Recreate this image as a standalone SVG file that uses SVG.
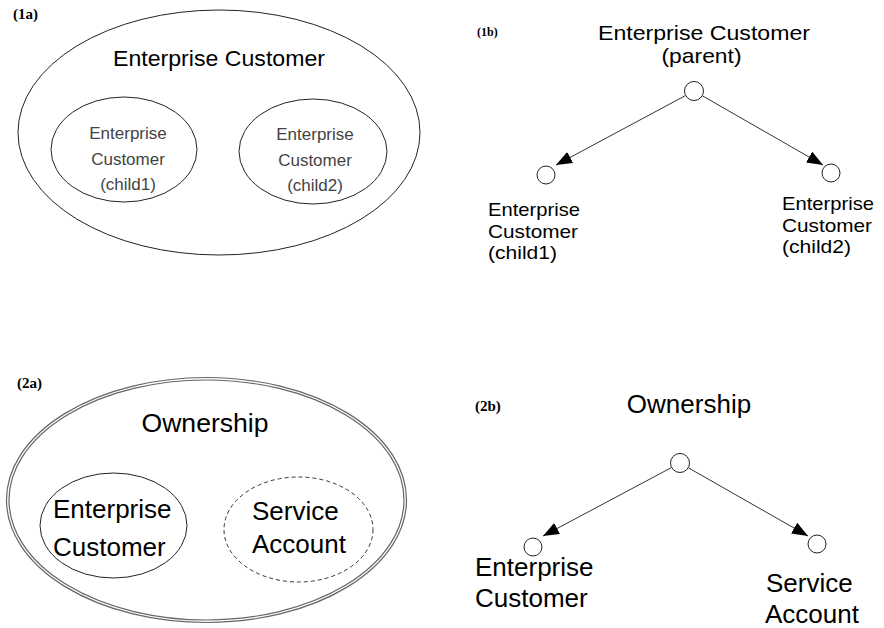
<svg xmlns="http://www.w3.org/2000/svg" width="884" height="628" viewBox="0 0 884 628">
<style>
.lbl{font-family:"Liberation Serif","Times New Roman",serif;font-weight:bold;fill:#000}
.t{font-family:"Liberation Sans",Arial,sans-serif;fill:#000}
.g{font-family:"Liberation Sans",Arial,sans-serif;fill:#444}
.ell{fill:none;stroke:#222;stroke-width:1}
.dbl{fill:none;stroke:#666;stroke-width:1.2}
.dash{fill:none;stroke:#333;stroke-width:1;stroke-dasharray:4 3}
.dot{fill:#fff;stroke:#222;stroke-width:1}
.edge{stroke:#333;stroke-width:1;fill:none;marker-end:url(#arr)}
</style>
<defs>
<marker id="arr" markerUnits="userSpaceOnUse" markerWidth="17" markerHeight="13" refX="16" refY="6.25" orient="auto">
<path d="M0,0 L16,6.25 L0,12.5 z" fill="#000"/>
</marker>
</defs>
<rect width="884" height="628" fill="#fff"/>

<text class="lbl" x="13" y="19" font-size="15">(1a)</text>
<text class="lbl" x="477" y="36" font-size="12">(1b)</text>
<text class="lbl" x="17" y="388" font-size="15">(2a)</text>
<text class="lbl" x="475" y="411" font-size="15">(2b)</text>

<g id="ec1a">
<ellipse class="ell" cx="219" cy="132.5" rx="201" ry="122.5"/>
<text class="t" x="219" y="65.5" font-size="22" text-anchor="middle" textLength="212" lengthAdjust="spacingAndGlyphs">Enterprise Customer</text>
</g>
<g id="ec1a-child1">
<ellipse class="ell" cx="124" cy="149.5" rx="73" ry="52.5"/>
<text class="g" x="128" y="139" font-size="17" text-anchor="middle">Enterprise</text>
<text class="g" x="128" y="165" font-size="17" text-anchor="middle">Customer</text>
<text class="g" x="128" y="190" font-size="17" text-anchor="middle">(child1)</text>
</g>
<g id="ec1a-child2">
<ellipse class="ell" cx="313" cy="151.5" rx="74" ry="52.5"/>
<text class="g" x="315" y="140" font-size="17" text-anchor="middle">Enterprise</text>
<text class="g" x="315" y="166" font-size="17" text-anchor="middle">Customer</text>
<text class="g" x="315" y="191" font-size="17" text-anchor="middle">(child2)</text>
</g>

<g id="connectors">
<line class="edge" x1="685.6" y1="95.5" x2="556" y2="165"/>
<line class="edge" x1="702.2" y1="95.7" x2="823" y2="165"/>
<line class="edge" x1="671.6" y1="467.5" x2="543" y2="536"/>
<line class="edge" x1="688.4" y1="467.8" x2="808" y2="536"/>
</g>

<g id="ec1b-parent">
<circle class="dot" cx="694" cy="91" r="9.5"/>
<text class="t" x="704" y="39.5" font-size="21" text-anchor="middle" textLength="212" lengthAdjust="spacingAndGlyphs">Enterprise Customer</text>
<text class="t" x="701.5" y="63" font-size="21" text-anchor="middle" textLength="80" lengthAdjust="spacingAndGlyphs">(parent)</text>
</g>
<g id="ec1b-child1">
<circle class="dot" cx="546" cy="175" r="9"/>
<text class="t" x="488" y="215.5" font-size="19" textLength="92" lengthAdjust="spacingAndGlyphs">Enterprise</text>
<text class="t" x="488" y="237.5" font-size="19" textLength="90" lengthAdjust="spacingAndGlyphs">Customer</text>
<text class="t" x="488" y="258.5" font-size="19" textLength="69" lengthAdjust="spacingAndGlyphs">(child1)</text>
</g>
<g id="ec1b-child2">
<circle class="dot" cx="831" cy="173" r="9"/>
<text class="t" x="782" y="210" font-size="19" textLength="92" lengthAdjust="spacingAndGlyphs">Enterprise</text>
<text class="t" x="782" y="232" font-size="19" textLength="90" lengthAdjust="spacingAndGlyphs">Customer</text>
<text class="t" x="782" y="253" font-size="19" textLength="69" lengthAdjust="spacingAndGlyphs">(child2)</text>
</g>

<g id="own2a">
<ellipse class="dbl" cx="206.5" cy="500" rx="200" ry="122.5"/>
<ellipse class="dbl" cx="206.5" cy="500" rx="197.5" ry="120"/>
<text class="t" x="205" y="432" font-size="25.5" text-anchor="middle" textLength="127" lengthAdjust="spacingAndGlyphs">Ownership</text>
</g>
<g id="ec2a">
<ellipse class="ell" cx="113.5" cy="525.5" rx="73.5" ry="52.5"/>
<text class="t" x="53" y="518" font-size="26">Enterprise</text>
<text class="t" x="53" y="556" font-size="26">Customer</text>
</g>
<g id="sa2a">
<ellipse class="dash" cx="298.5" cy="529.5" rx="74.5" ry="52.5"/>
<text class="t" x="252" y="520" font-size="26">Service</text>
<text class="t" x="252" y="553" font-size="26">Account</text>
</g>

<g id="own2b">
<circle class="dot" cx="680" cy="463" r="9.5"/>
<text class="t" x="689" y="413" font-size="26" text-anchor="middle">Ownership</text>
</g>
<g id="ec2b">
<circle class="dot" cx="533" cy="547" r="9"/>
<text class="t" x="475" y="576" font-size="26">Enterprise</text>
<text class="t" x="475" y="607" font-size="26">Customer</text>
</g>
<g id="sa2b">
<circle class="dot" cx="817" cy="544" r="9"/>
<text class="t" x="766" y="592" font-size="26">Service</text>
<text class="t" x="765" y="623" font-size="26">Account</text>
</g>
</svg>
